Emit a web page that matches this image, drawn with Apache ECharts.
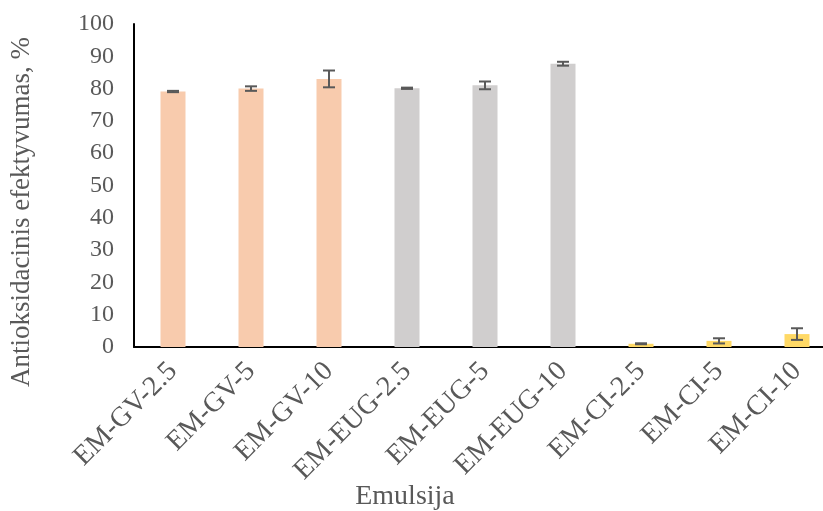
<!DOCTYPE html>
<html><head><meta charset="utf-8">
<script src="https://cdn.jsdelivr.net/npm/echarts@6/dist/echarts.min.js"></script>
<style>html,body{margin:0;padding:0;background:#fff}#c{width:823px;height:511px}</style>
</head><body><div id="c"></div>
<script>
const categories = ['EM-GV-2.5','EM-GV-5','EM-GV-10','EM-EUG-2.5','EM-EUG-5','EM-EUG-10','EM-CI-2.5','EM-CI-5','EM-CI-10'];
const values = [79.1, 80.0, 83.0, 80.1, 81.0, 87.7, 1.0, 1.9, 4.0];
const errors = [0.2, 0.7, 2.6, 0.2, 1.2, 0.6, 0.15, 0.8, 1.8];
const colors = ['#F8CBAD','#F8CBAD','#F8CBAD','#D0CECE','#D0CECE','#D0CECE','#FFD966','#FFD966','#FFD966'];
const yTicks = [0,10,20,30,40,50,60,70,80,90,100];
const xTitle = 'Emulsija';
const yTitle = 'Antioksidacinis efektyvumas, %';

const font = 'Liberation Serif, Times New Roman, serif';
const chart = echarts.init(document.getElementById('c'));
chart.setOption({
  animation: false,
  grid: {left: 134, top: 24, right: -13, bottom: 164, containLabel: false, outerBoundsMode: 'none'},
  xAxis: {
    type: 'category', data: categories,
    axisLine: {lineStyle: {color: '#000', width: 2}},
    axisTick: {show: false},
    axisLabel: {rotate: 45, color: '#595959', fontFamily: font, fontSize: 28, margin: 20}
  },
  yAxis: {
    type: 'value', min: yTicks[0], max: yTicks[yTicks.length-1], interval: 10,
    axisLine: {show: true, lineStyle: {color: '#000', width: 2}},
    axisTick: {show: false},
    splitLine: {show: false},
    axisLabel: {color: '#595959', fontFamily: font, fontSize: 24, margin: 20}
  },
  graphic: [
    {type: 'text', x: 405, y: 497, style: {text: xTitle, font: '28px ' + font, fill: '#595959', align: 'center', verticalAlign: 'middle'}},
    {type: 'text', x: 22, y: 212, rotation: Math.PI/2, style: {text: yTitle, font: '27px ' + font, fill: '#595959', align: 'center', verticalAlign: 'middle'}}
  ],
  series: [{
    type: 'bar', barWidth: 25,
    data: values.map((v,i)=>({value: v, itemStyle: {color: colors[i]}}))
  },{
    type: 'custom',
    data: values.map((v,i)=>[i, v - errors[i], v + errors[i]]),
    renderItem: function(params, api){
      const x = api.value(0);
      const lo = api.coord([x, api.value(1)]);
      const hi = api.coord([x, api.value(2)]);
      const hw = 6;
      const st = {stroke: '#595959', lineWidth: 2};
      return {type: 'group', children: [
        {type: 'line', shape: {x1: lo[0], y1: lo[1], x2: hi[0], y2: hi[1]}, style: st},
        {type: 'line', shape: {x1: lo[0]-hw, y1: lo[1], x2: lo[0]+hw, y2: lo[1]}, style: st},
        {type: 'line', shape: {x1: hi[0]-hw, y1: hi[1], x2: hi[0]+hw, y2: hi[1]}, style: st}
      ]};
    },
    z: 10
  }]
});
</script></body></html>
